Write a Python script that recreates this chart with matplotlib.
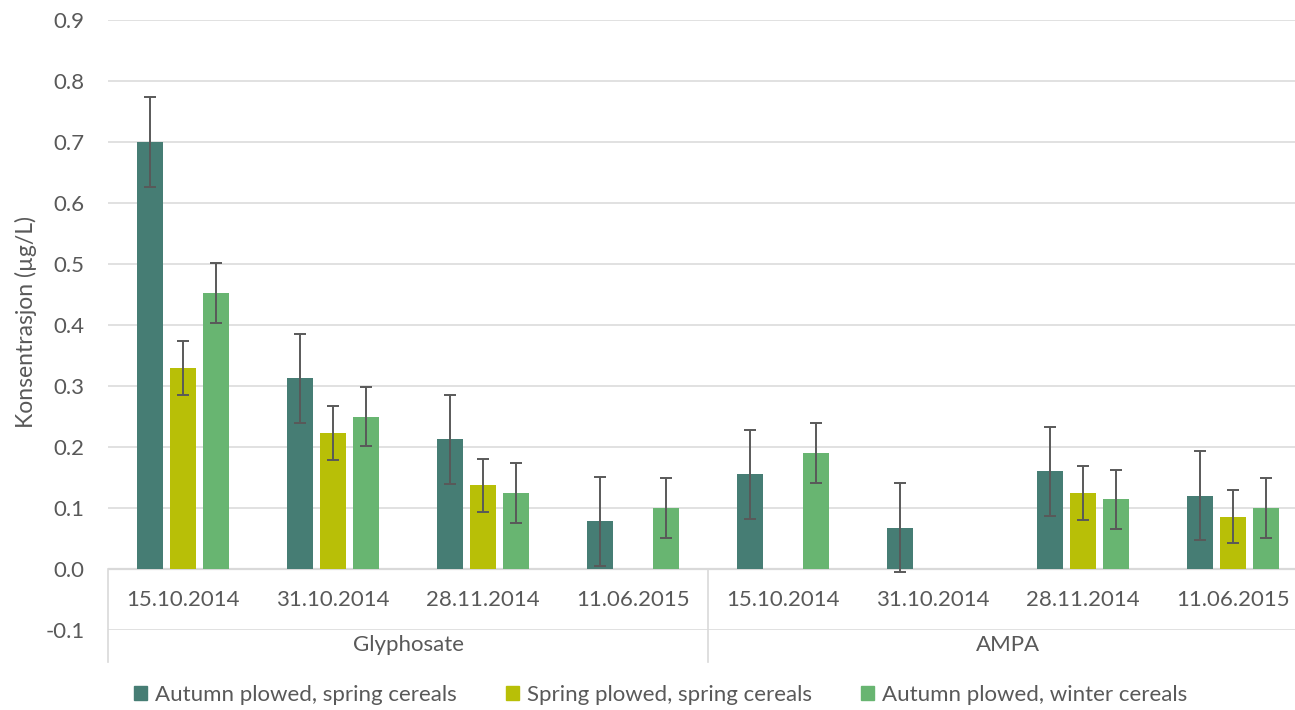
import numpy as np
import matplotlib.pyplot as plt
from matplotlib.patches import Patch

plt.rcParams['font.family'] = ['Lato', 'DejaVu Sans']

dates = ['15.10.2014', '31.10.2014', '28.11.2014', '11.06.2015',
         '15.10.2014', '31.10.2014', '28.11.2014', '11.06.2015']
compounds = ['Glyphosate', 'AMPA']
series = ['Autumn plowed, spring cereals', 'Spring plowed, spring cereals',
          'Autumn plowed, winter cereals']

# mean concentration (µg/L), nan = not detected
autumn_spring = [0.700, 0.313, 0.213, 0.078, 0.155, 0.068, 0.160, 0.120]
spring_spring = [0.330, 0.223, 0.137, np.nan, np.nan, np.nan, 0.125, 0.086]
autumn_winter = [0.453, 0.250, 0.125, 0.100, 0.190, np.nan, 0.114, 0.100]
errors = [0.073, 0.044, 0.049]

colors = ['#467d74', '#b8bf07', '#68b571']
txt = '#595959'
grid = '#d9d9d9'
fs = 16

fig = plt.figure(figsize=(12.95, 7.1), dpi=100)
ax = fig.add_axes([108 / 1295, 80 / 710, 1200 / 1295, 610 / 710])

x = np.arange(len(dates))
width = 0.175
step = 0.222
for i, vals in enumerate([autumn_spring, spring_spring, autumn_winter]):
    vals = np.array(vals)
    pos = x + (i - 1) * step
    ax.bar(pos, vals, width, color=colors[i], zorder=2)
    ok = ~np.isnan(vals)
    ax.errorbar(pos[ok], vals[ok], yerr=errors[i], fmt='none', ecolor=txt,
                elinewidth=1.4, capsize=4.5, capthick=1.4, zorder=3)

ax.set_xlim(-0.5, len(dates) - 0.5)
ax.set_ylim(-0.1, 0.9)
ax.set_yticks(np.arange(-0.1, 0.91, 0.1))
ax.set_yticklabels([f'{v:.1f}' for v in np.arange(-0.1, 0.91, 0.1)])
ax.grid(axis='y', color=grid, lw=1.1, zorder=0)
ax.axhline(0, color=grid, lw=1.6, zorder=1)
ax.set_xticks([])
for s in ax.spines.values():
    s.set_visible(False)
ax.tick_params(axis='y', length=0, pad=17, labelsize=fs, labelcolor=txt)

# two-level category axis below zero
for i, d in enumerate(dates):
    ax.text(i, -0.05, d, ha='center', va='center', fontsize=fs, color=txt)
for j, c in enumerate(compounds):
    ax.text(1.5 + 4 * j, -0.125, c, ha='center', va='center', fontsize=fs, color=txt)
for xv in [-0.5, 3.5, 7.5]:
    ax.plot([xv, xv], [0, -0.152], color=grid, lw=1.2, clip_on=False)

ax.set_ylabel('Konsentrasjon (µg/L)', fontsize=16.5, color=txt)
ax.yaxis.set_label_coords(-0.059, 0.505)

handles = [Patch(color=c, label=s) for c, s in zip(colors, series)]
fig.legend(handles=handles, loc='center', bbox_to_anchor=(0.51, 0.021), ncol=3,
           frameon=False, fontsize=fs, labelcolor=txt, handlelength=0.6,
           handleheight=0.6, handletextpad=0.35, columnspacing=2.2)

fig.savefig('out.png', dpi=100)
